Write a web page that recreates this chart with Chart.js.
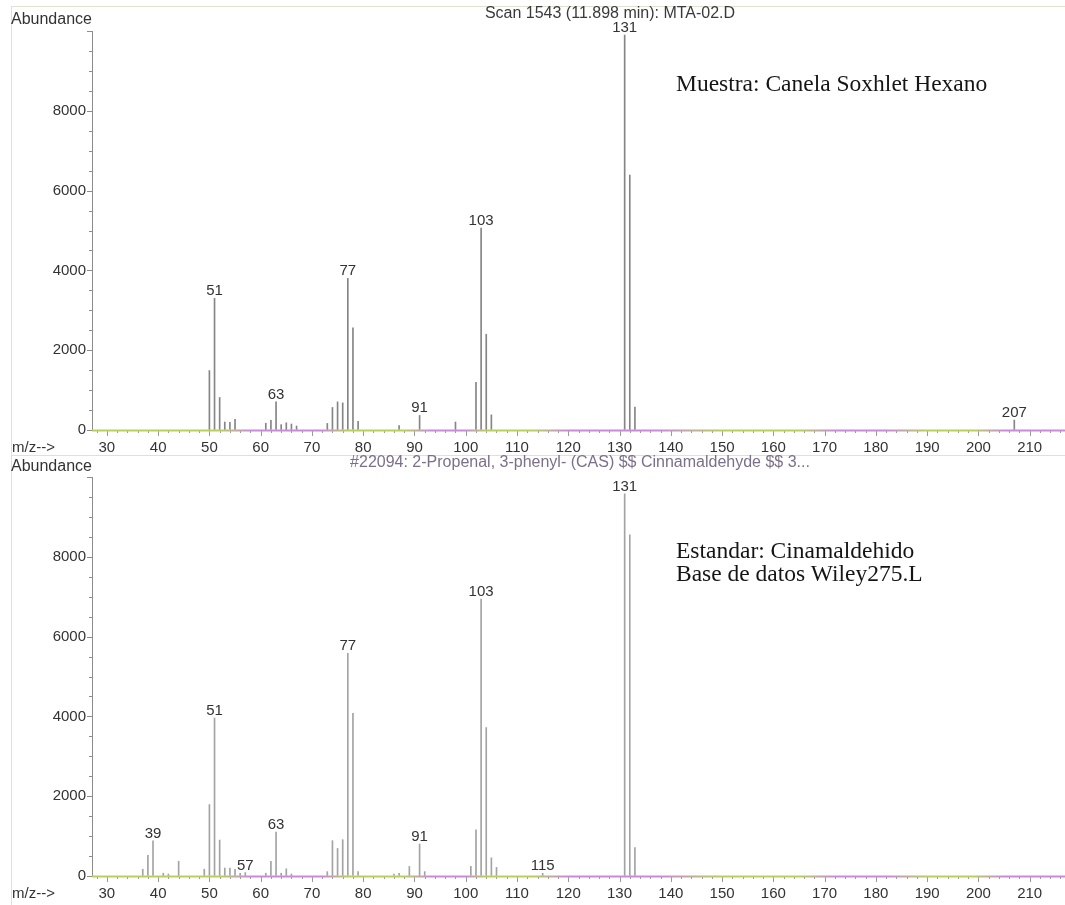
<!DOCTYPE html>
<html>
<head>
<meta charset="utf-8">
<script src="https://cdn.jsdelivr.net/npm/chart.js@4.4.1/dist/chart.umd.min.js"></script>
<style>
  html, body { margin: 0; padding: 0; background: #fff; }
  #page { position: relative; width: 1065px; height: 905px; overflow: hidden; }
  canvas { position: absolute; left: 0; }
  .note {
    position: absolute; left: 676px; white-space: nowrap;
    font-family: "Liberation Serif", "Times New Roman", serif;
    font-size: 23.5px; line-height: 23px; color: #151515;
  }
</style>
</head>
<body>
<div id="page">
  <canvas id="scan" width="1065" height="456" style="top:0"></canvas>
  <canvas id="ref" width="1065" height="465" style="top:440px"></canvas>
  <div class="note" style="top:72px">Muestra: Canela Soxhlet Hexano</div>
  <div class="note" style="top:539px">Estandar: Cinamaldehido<br>Base de datos Wiley275.L</div>
</div>
<script>
// sample spectrum (Scan 1543)
const scanMz = [50, 51, 52, 53, 54, 55, 61, 62, 63, 64, 65, 66, 67, 73, 74, 75, 76, 77, 78, 79,
  87, 91, 98, 102, 103, 104, 105, 131, 132, 133, 207];
const scanAbund = [1490, 3300, 815, 200, 190, 270, 170, 240, 705, 135, 180, 150, 100, 165, 565, 705, 680, 3800, 2560, 220,
  110, 365, 200, 1195, 5060, 2400, 380, 9900, 6390, 575, 250];
const scanLabels = [51, 63, 77, 91, 103, 131, 207];

// library spectrum (#22094 Cinnamaldehyde)
const refMz = [37, 38, 39, 41, 42, 44, 49, 50, 51, 52, 53, 54, 55, 56, 57, 61, 62, 63, 64, 65, 66,
  73, 74, 75, 76, 77, 78, 79, 86, 87, 89, 91, 92, 101, 102, 103, 104, 105, 106, 115, 131, 132, 133];
const refAbund = [170, 515, 884, 70, 50, 370, 170, 1790, 3960, 900, 200, 200, 170, 70, 85, 70, 370, 1100, 70, 180, 50,
  110, 885, 690, 910, 5580, 4080, 110, 50, 70, 240, 800, 110, 240, 1160, 6940, 3720, 455, 215, 70, 9580, 8550, 710];
const refLabels = [39, 51, 57, 63, 77, 91, 103, 115, 131];

const xMin = 27.1, xMax = 216.5, yMax = 10000;
const FONT = '"Liberation Sans", Arial, sans-serif';

// colour drift of the scanned baseline
const baseStops = [[27, '#b9cf5c'], [52, '#b9cf5c'], [58, '#c98ad9'], [72, '#c98ad9'], [77, '#b9cf5c'], [88, '#b9cf5c'],
  [93, '#c98ad9'], [100, '#c98ad9'], [104, '#b9cf5c'], [113, '#b9cf5c'], [120, '#c98ad9'], [138, '#c98ad9'],
  [150, '#b9cf5c'], [165, '#b9cf5c'], [172, '#c98ad9'], [182, '#c98ad9'], [190, '#b9cf5c'], [199, '#b9cf5c'],
  [205, '#c98ad9'], [216, '#c98ad9']];

const spectrumDecor = {
  id: 'spectrumDecor',
  afterDraw(chart, args, opts) {
    const { ctx, chartArea: a, scales: { x, y } } = chart;
    ctx.save();

    // panel frame
    ctx.strokeStyle = '#dfe2cf';
    ctx.lineWidth = 1;
    ctx.strokeRect(11.5, opts.frameTop + 0.5, 1070, opts.frameH);

    // y axis line and ticks
    ctx.strokeStyle = '#8c8c8c';
    ctx.beginPath();
    ctx.moveTo(a.left + 0.5, a.top);
    ctx.lineTo(a.left + 0.5, a.bottom);
    for (let v = 0; v <= yMax; v += 500) {
      const py = Math.round(y.getPixelForValue(v)) + 0.5;
      const len = v % 2000 === 0 ? 5 : 3;
      ctx.moveTo(a.left - len, py);
      ctx.lineTo(a.left, py);
    }
    ctx.stroke();

    // x ticks
    ctx.strokeStyle = '#9a9a9a';
    ctx.beginPath();
    for (let v = 28; v <= xMax; v += 2) {
      const px = Math.round(x.getPixelForValue(v)) + 0.5;
      const len = v % 10 === 0 ? 6 : 3;
      ctx.moveTo(px, a.bottom);
      ctx.lineTo(px, a.bottom + len);
    }
    ctx.stroke();

    // baseline
    const g = ctx.createLinearGradient(a.left, 0, a.right, 0);
    baseStops.forEach(([m, c]) => {
      const t = (x.getPixelForValue(m) - a.left) / (a.right - a.left);
      g.addColorStop(Math.min(1, Math.max(0, t)), c);
    });
    ctx.strokeStyle = g;
    ctx.lineWidth = 2;
    ctx.beginPath();
    ctx.moveTo(a.left, a.bottom + 0.5);
    ctx.lineTo(a.right + 2, a.bottom + 0.5);
    ctx.stroke();

    // peak labels
    ctx.fillStyle = '#333';
    ctx.font = '15px ' + FONT;
    ctx.textAlign = 'center';
    ctx.textBaseline = 'alphabetic';
    opts.labels.forEach(m => {
      const i = opts.mz.indexOf(m);
      ctx.fillText(String(m), x.getPixelForValue(m), y.getPixelForValue(opts.abund[i]) - 3);
    });

    // axis titles
    ctx.textAlign = 'left';
    ctx.textBaseline = 'middle';
    ctx.font = '16px ' + FONT;
    ctx.fillText('Abundance', 11, opts.abundY);
    ctx.font = '15px ' + FONT;
    ctx.fillText('m/z-->', 12, a.bottom + 18);

    // scan title
    ctx.textAlign = 'center';
    ctx.font = '16px ' + FONT;
    ctx.fillStyle = opts.titleColor;
    ctx.fillText(opts.title, opts.titleX, opts.titleY);
    ctx.restore();
  }
};

function makeSpectrum(id, mz, abund, labels, deco) {
  return new Chart(document.getElementById(id), {
    type: 'bar',
    data: {
      datasets: [{
        data: mz.map((m, i) => ({ x: m, y: abund[i] })),
        backgroundColor: deco.barColor,
        barThickness: 1,
        borderWidth: 0
      }]
    },
    options: {
      responsive: false,
      animation: false,
      events: [],
      layout: { padding: { left: 0, right: 2, top: deco.top, bottom: deco.bottom } },
      plugins: {
        legend: { display: false },
        tooltip: { enabled: false },
        spectrumDecor: Object.assign({ mz, abund, labels }, deco)
      },
      scales: {
        x: {
          type: 'linear',
          min: xMin,
          max: xMax,
          offset: false,
          grid: { display: true, drawOnChartArea: false, drawTicks: true, tickLength: 6, color: 'rgba(0,0,0,0)' },
          border: { display: false },
          afterBuildTicks: s => { s.ticks = []; for (let v = 30; v <= 210; v += 10) s.ticks.push({ value: v }); },
          ticks: { autoSkip: false, maxRotation: 0, padding: 3, color: '#333', font: { family: FONT, size: 15 },
            callback: v => String(v) },
          afterFit: s => { s.height = 22; }
        },
        y: {
          min: 0,
          max: yMax,
          grid: { display: true, drawOnChartArea: false, drawTicks: true, tickLength: 6, color: 'rgba(0,0,0,0)' },
          border: { display: false },
          afterBuildTicks: s => { s.ticks = []; for (let v = 0; v <= 8000; v += 2000) s.ticks.push({ value: v }); },
          ticks: { autoSkip: false, padding: 0, color: '#333', font: { family: FONT, size: 15 },
            callback: v => String(v) },
          afterFit: s => { s.width = 92; }
        }
      }
    },
    plugins: [spectrumDecor]
  });
}

makeSpectrum('scan', scanMz, scanAbund, scanLabels, {
  top: 31, bottom: 4, frameTop: 6, frameH: 450, abundY: 20,
  title: 'Scan 1543 (11.898 min): MTA-02.D', titleColor: '#3a3a3a', titleX: 610, titleY: 14,
  barColor: '#858585'
});
makeSpectrum('ref', refMz, refAbund, refLabels, {
  top: 37, bottom: 7, frameTop: 15, frameH: 460, abundY: 27,
  title: '#22094: 2-Propenal, 3-phenyl- (CAS) $$ Cinnamaldehyde $$ 3...', titleColor: '#7d6f8a', titleX: 580, titleY: 23,
  barColor: '#a3a3a3'
});
</script>
</body>
</html>
